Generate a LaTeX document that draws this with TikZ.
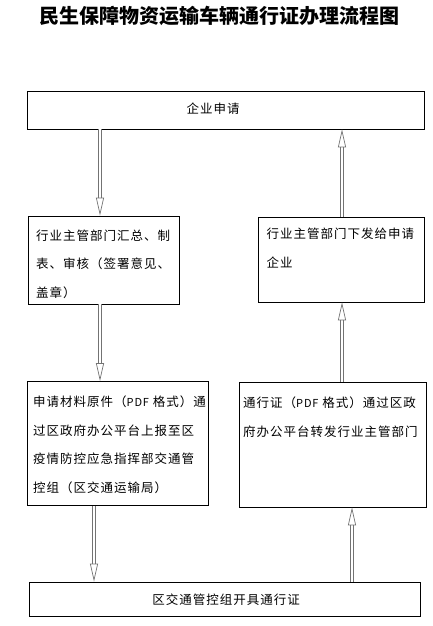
\documentclass[tikz,border=0pt]{standalone}
\usepackage{fontspec}
\usetikzlibrary{arrows.meta}
\newfontfamily\cjk[LetterSpace=8]{Noto Sans CJK SC}
\newfontfamily\cjkhead{Noto Sans CJK SC}
\newcommand\pdfword{{\fontsize{11}{28.5}\selectfont PDF}}

\begin{document}
\begin{tikzpicture}[x=1pt, y=-1pt,
  flowbox/.style 2 args={draw=black, line width=0.75pt, inner sep=0pt, minimum width=#1, minimum height=#2},
  boxtext/.style={font=\cjk\fontsize{12.5}{28.5}\selectfont, align=left, inner sep=0pt, anchor=west},
  flow/.style={draw=black!55, double=white, double distance=2.2pt, line width=0.7pt,
    -{Triangle[open, length=18pt, width=8pt]}}
]
  \useasboundingbox (0,0) rectangle (432,626);
  \node[font=\cjkhead\bfseries\fontsize{20}{24}\selectfont, inner sep=0pt] (title) at (219,16) {民生保障物资运输车辆通行证办理流程图};

  \node[flowbox={397pt}{38pt}]  (apply)   at (225.5,110) {};
  \node[flowbox={151pt}{88pt}]  (summary) at (103.5,260) {};
  \node[flowbox={166pt}{85pt}]  (issue)   at (341,259.5) {};
  \node[flowbox={181pt}{124pt}] (report)  at (118,443.5) {};
  \node[flowbox={187pt}{125pt}] (forward) at (332.5,444.5) {};
  \node[flowbox={391pt}{34pt}]  (permit)  at (224.5,599) {};

  \node[boxtext, anchor=center] (applyt) at (213,109) {企业申请};
  \node[boxtext] (summaryt) at (36,264) {行业主管部门汇总、制\\表、审核（签署意见、\\盖章）};
  \node[boxtext] (issuet) at (266.5,248) {行业主管部门下发给申请\\企业};
  \node[boxtext] (reportt) at (33,444.5) {申请材料原件（\pdfword{} 格式）通\\过区政府办公平台上报至区\\疫情防控应急指挥部交通管\\控组（区交通运输局）};
  \node[boxtext] (forwardt) at (243,417) {通行证（\pdfword{} 格式）通过区政\\府办公平台转发行业主管部门};
  \node[boxtext, anchor=center] (permitt) at (226,600) {区交通管控组开具通行证};

  \coordinate (lx) at (100,0);
  \coordinate (lx2) at (94,0);
  \coordinate (rx) at (342,0);
  \coordinate (rx2) at (352,0);
  \draw[flow] (lx |- apply.south) -- (lx |- summary.north);
  \draw[flow] (lx |- summary.south) -- (lx |- report.north);
  \draw[flow] (lx2 |- report.south) -- (lx2 |- permit.north);
  \draw[flow] (rx |- issue.north) -- (rx |- apply.south);
  \draw[flow] (rx |- forward.north) -- (rx |- issue.south);
  \draw[flow] (rx2 |- permit.north) -- (rx2 |- forward.south);
\end{tikzpicture}
\end{document}
